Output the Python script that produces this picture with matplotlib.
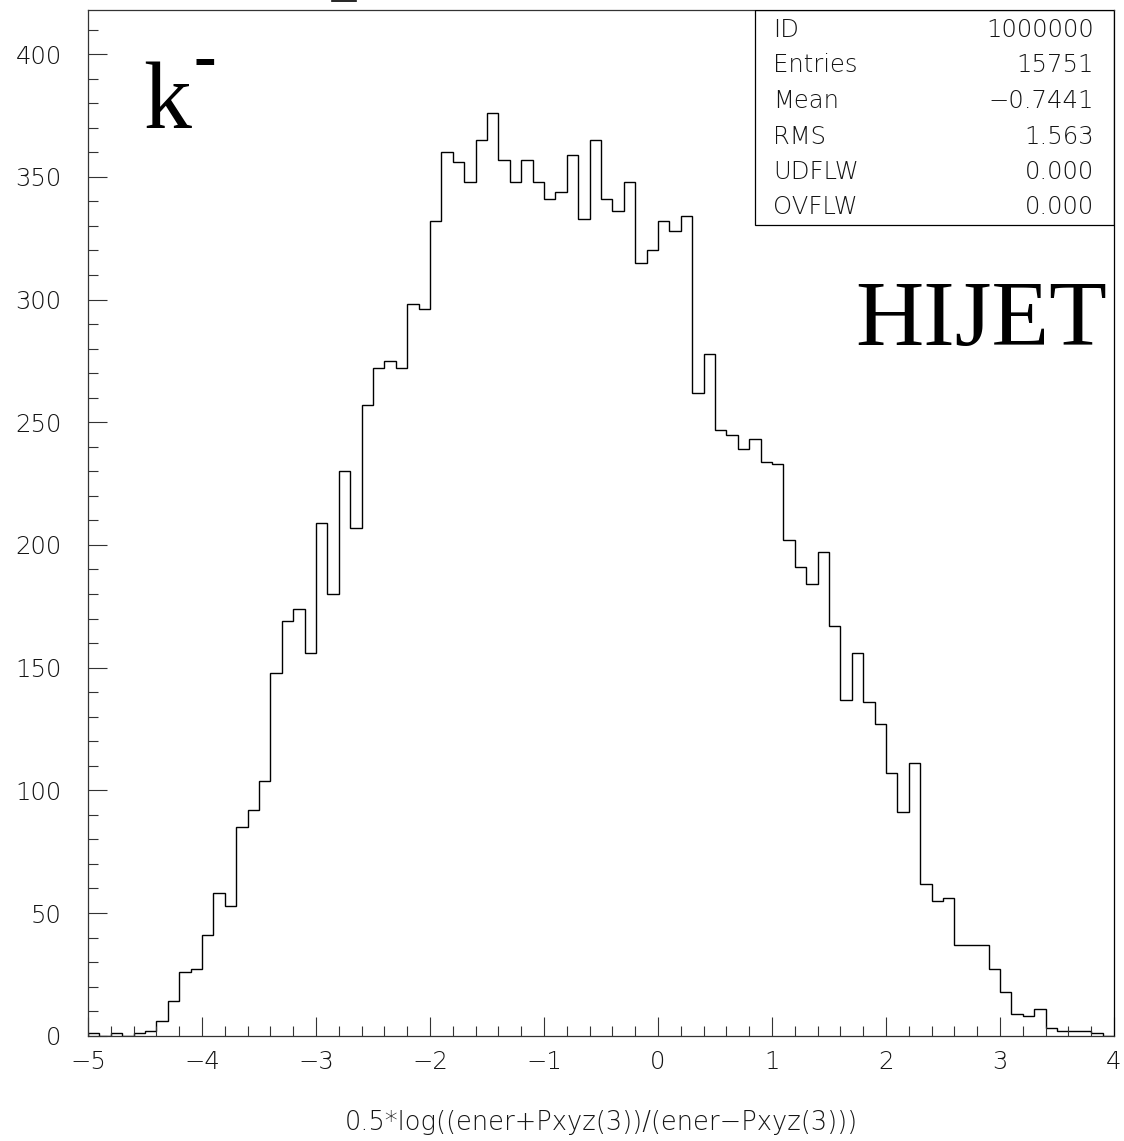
import matplotlib
matplotlib.use("Agg")
import matplotlib.pyplot as plt
from matplotlib.patches import Rectangle
from matplotlib.ticker import MultipleLocator
from matplotlib.lines import Line2D
import numpy as np

W, H = 1124, 1141

# histogram: 90 bins of 0.1 from -5 to 4
x_lo = -5.0
x_hi = 4.0
n_bins = 90
counts = [1, 0, 1, 0, 1, 2, 6, 14, 26, 27,
          41, 58, 53, 85, 92, 104, 148, 169, 174, 156,
          209, 180, 230, 207, 257, 272, 275, 272, 298, 296,
          332, 360, 356, 348, 365, 376, 357, 348, 357, 348,
          341, 344, 359, 333, 365, 341, 336, 348, 315, 320,
          332, 328, 334, 262, 278, 247, 245, 239, 243, 234,
          233, 202, 191, 184, 197, 167, 137, 156, 136, 127,
          107, 91, 111, 62, 55, 56, 37, 37, 37, 27,
          18, 9, 8, 11, 3, 2, 2, 2, 1, 0]

stat_names = ["ID", "Entries", "Mean", "RMS", "UDFLW", "OVFLW"]
stat_values = ["1000000", "15751", "\u22120.7441", "1.563", "0.000", "0.000"]

x_title = "0.5*log((ener+Pxyz(3))/(ener\u2212Pxyz(3)))"
particle = "k"
generator = "HIJET"

gray = "#151515"
thin = dict(family="DejaVu Sans", fontweight="light", color=gray)


def fx(px):
    return px / W


def fy(py):
    return 1 - py / H


fig = plt.figure(figsize=(W / 100, H / 100), dpi=100)
ax = fig.add_axes([fx(88), fy(1035.7), fx(1114) - fx(88), fy(10) - fy(1035.7)])

edges = np.linspace(x_lo, x_hi, n_bins + 1)
ax.stairs(counts, edges, color="black", linewidth=1.0)

ax.set_xlim(x_lo, x_hi)
ax.set_ylim(0, 418)

ax.xaxis.set_major_locator(MultipleLocator(1))
ax.xaxis.set_minor_locator(MultipleLocator(0.2))
ax.yaxis.set_major_locator(MultipleLocator(50))
ax.yaxis.set_minor_locator(MultipleLocator(10))

ax.tick_params(which="both", direction="in", color="#333333", width=0.8,
               top=False, right=False, labelsize=17.5, labelcolor=gray)
ax.tick_params(which="major", length=14)
ax.tick_params(which="minor", length=7)
ax.tick_params(axis="y", pad=19)
ax.tick_params(axis="x", pad=10)

def fmt(v, pos):
    return ("%d" % v).replace("-", "\u2212")

ax.xaxis.set_major_formatter(plt.FuncFormatter(fmt))
ax.yaxis.set_major_formatter(plt.FuncFormatter(fmt))
for lab in ax.get_xticklabels() + ax.get_yticklabels():
    lab.set_fontweight("light")

for s in ax.spines.values():
    s.set_color("#333333")
    s.set_linewidth(0.9)
ax.spines["right"].set_color("black")

# stats box in the upper right corner
ax.add_patch(Rectangle((0.650, 0.790), 0.350, 0.210, transform=ax.transAxes,
                       fill=False, edgecolor="black", linewidth=0.9, zorder=5))
row_y = [30, 65.5, 101, 136.5, 172, 207.5]
for name, val, py in zip(stat_names, stat_values, row_y):
    fig.text(fx(773), fy(py), name, fontsize=17.5, ha="left", va="center", **thin)
    fig.text(fx(1094), fy(py), val, fontsize=17.5, ha="right", va="center", **thin)

# big labels
fig.text(fx(143), fy(127.5), particle, family="Liberation Serif", fontsize=69,
         color="black", ha="left", va="baseline")
fig.text(fx(194), fy(78), "-", family="Liberation Serif", fontsize=49,
         color="black", ha="left", va="baseline", fontweight="bold")
fig.text(fx(1107), fy(345), generator, family="Liberation Serif", fontsize=68,
         color="black", ha="right", va="baseline")

fig.text(fx(601), fy(1130), x_title, fontsize=18.5, ha="center", va="baseline", **thin)

# clipped remnant of the title at the very top
fig.add_artist(Line2D([fx(332), fx(356)], [fy(0.6), fy(0.6)], color="black",
                      linewidth=1.2, transform=fig.transFigure))

fig.savefig("out.png", dpi=100)
